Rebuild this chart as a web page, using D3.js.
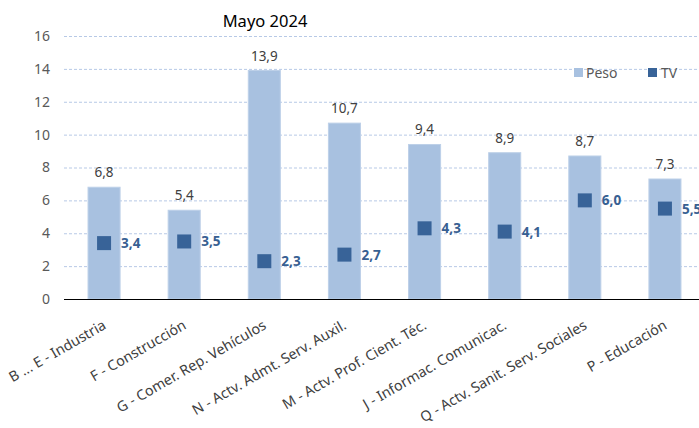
<!DOCTYPE html>
<html><head><meta charset="utf-8">
<script src="https://cdn.jsdelivr.net/npm/d3@7"></script>
<style>
body{margin:0;background:#fff;}
text{font-family:"Noto Sans",sans-serif;}
</style></head>
<body><svg id="c" width="699" height="428"></svg>
<script>
const categories = ["B ... E - Industria","F - Construcción","G - Comer. Rep. Vehículos","N - Actv. Admt. Serv. Auxil.","M - Actv. Prof. Cient. Téc.","J - Informac. Comunicac.","Q - Actv. Sanit. Serv. Sociales","P - Educación"];
const peso = [6.8,5.4,13.9,10.7,9.4,8.9,8.7,7.3];
const tv = [3.4,3.5,2.3,2.7,4.3,4.1,6.0,5.5];
const yTicks = [0,2,4,6,8,10,12,14,16];
const title = "Mayo 2024";
const seriesNames = ["Peso","TV"];

const fmt = v => d3.format(".1f")(v).replace(".", ",");
const svg = d3.select("#c");
const x = d3.scaleBand().domain(categories).range([64, 705]).paddingInner(0.6).paddingOuter(0.3);
const y = d3.scaleLinear().domain([0,16]).range([299, 36]);
const barColor = "#A8C1E0", tvColor = "#386398";

// grid
svg.append("g").selectAll("line").data(yTicks.filter(d=>d>0)).join("line")
  .attr("x1",64).attr("x2",699).attr("y1",d=>y(d)+0.5).attr("y2",d=>y(d)+0.5)
  .attr("stroke","#B7C9E6").attr("stroke-width",1).attr("stroke-dasharray","3,2");

// y axis labels
const ya = svg.append("g").attr("transform","translate(50,0)")
  .call(d3.axisLeft(y).tickValues(yTicks).tickSize(0).tickPadding(0).tickFormat(d3.format("d")));
ya.select(".domain").remove();
ya.selectAll("text").attr("font-size",14).attr("fill","#595959").style("font-family","'Noto Sans',sans-serif");

// bars
svg.append("g").selectAll("rect").data(peso).join("rect")
  .attr("x",(d,i)=>x(categories[i])).attr("width",x.bandwidth())
  .attr("y",d=>y(d)).attr("height",d=>y(0)-y(d))
  .attr("fill",barColor).attr("stroke","#BDD0E8").attr("stroke-width",1);

// peso labels
svg.append("g").selectAll("text").data(peso).join("text")
  .attr("x",(d,i)=>x(categories[i])+x.bandwidth()/2).attr("y",d=>y(d)-10)
  .attr("text-anchor","middle").attr("font-size",13.5).attr("fill","#404040").text(d=>fmt(d));

// x axis line
svg.append("line").attr("x1",64).attr("x2",699).attr("y1",299.5).attr("y2",299.5).attr("stroke","#000").attr("stroke-width",1.2);

// tv markers
const ms = 14;
svg.append("g").selectAll("rect").data(tv).join("rect")
  .attr("x",(d,i)=>x(categories[i])+x.bandwidth()/2-ms/2).attr("y",d=>y(d)-ms/2)
  .attr("width",ms).attr("height",ms).attr("fill",tvColor);
svg.append("g").selectAll("text").data(tv).join("text")
  .attr("x",(d,i)=>x(categories[i])+x.bandwidth()/2+17).attr("y",d=>y(d)+5)
  .attr("font-size",13.5).attr("font-weight","bold").attr("fill","#376092").text(d=>fmt(d));

// x labels
svg.append("g").selectAll("text").data(categories).join("text")
  .attr("transform",d=>`translate(${x(d)+x.bandwidth()/2+3},328) rotate(-30)`)
  .attr("text-anchor","end").attr("font-size",14.3).attr("fill","#404040").text(d=>d);

// title
svg.append("text").attr("x",265).attr("y",27).attr("text-anchor","middle")
  .attr("font-size",16.5).attr("fill","#000").text(title);

// legend
const lg = svg.append("g");
lg.append("rect").attr("x",574).attr("y",68).attr("width",9).attr("height",9).attr("fill",barColor);
lg.append("text").attr("x",586).attr("y",78).attr("font-size",14).attr("fill","#595959").text(seriesNames[0]);
lg.append("rect").attr("x",648).attr("y",68).attr("width",9).attr("height",9).attr("fill",tvColor);
lg.append("text").attr("x",661).attr("y",78).attr("font-size",14).attr("fill","#595959").text(seriesNames[1]);
</script></body></html>
